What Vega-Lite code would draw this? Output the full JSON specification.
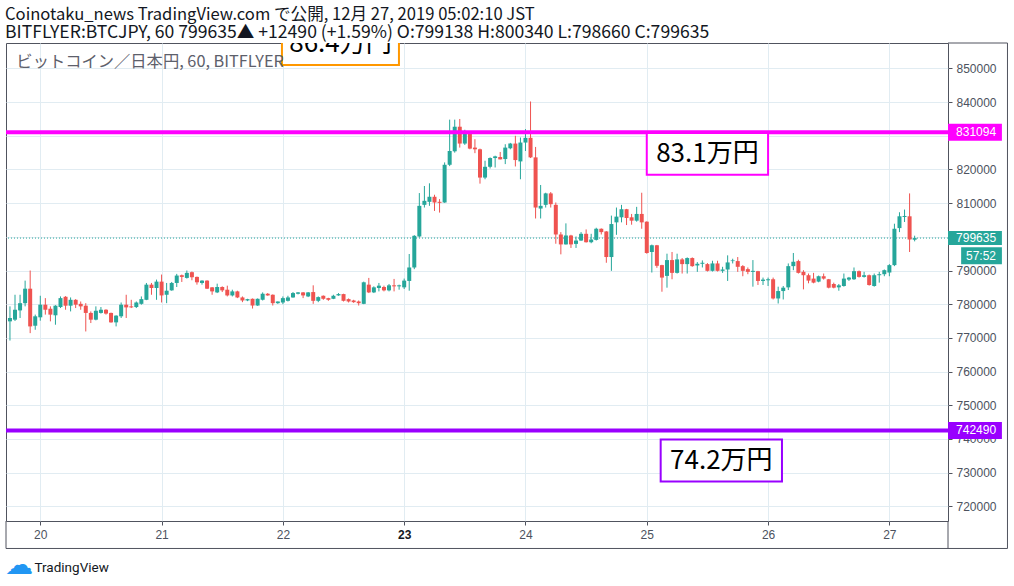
{
  "$schema": "https://vega.github.io/schema/vega-lite/v6.json",
  "description": "BITFLYER BTCJPY 60 min candles, Dec 19-27 2019, with support/resistance lines",
  "width": 942,
  "height": 478,
  "autosize": "none",
  "padding": {"left": 6, "top": 43, "right": 66, "bottom": 65},
  "background": "white",
  "title": {
    "text": "Coinotaku_news TradingView.com で公開, 12月 27, 2019 05:02:10 JST",
    "subtitle": "BITFLYER:BTCJPY, 60  799635▲ +12490 (+1.59%) O:799138 H:800340 L:798660 C:799635",
    "anchor": "start",
    "frame": "group",
    "offset": 1,
    "dx": -1,
    "font": "Noto Sans CJK JP",
    "fontSize": 16.6,
    "fontWeight": "normal",
    "color": "#131722",
    "subtitleFont": "Noto Sans CJK JP",
    "subtitleFontSize": 17.6,
    "subtitleColor": "#131722",
    "subtitlePadding": 0
  },
  "config": {
    "view": {"stroke": "#50535e", "strokeWidth": 1},
    "text": {"font": "Liberation Sans"},
    "axis": {"labelOverlap": false, "labelSeparation": 0}
  },
  "datasets": {
    "candles": [
      {"t": "2019-12-19T18:00:00Z", "o": 774900, "h": 779350, "l": 769200, "c": 775900},
      {"t": "2019-12-19T19:00:00Z", "o": 775400, "h": 782800, "l": 775000, "c": 778350},
      {"t": "2019-12-19T20:00:00Z", "o": 778150, "h": 782800, "l": 775900, "c": 780300},
      {"t": "2019-12-19T21:00:00Z", "o": 780300, "h": 787000, "l": 779350, "c": 784600},
      {"t": "2019-12-19T22:00:00Z", "o": 784600, "h": 790000, "l": 771400, "c": 773400},
      {"t": "2019-12-19T23:00:00Z", "o": 773600, "h": 776900, "l": 772400, "c": 776400},
      {"t": "2019-12-20T00:00:00Z", "o": 776100, "h": 782500, "l": 775100, "c": 779850},
      {"t": "2019-12-20T01:00:00Z", "o": 779850, "h": 781800, "l": 776900, "c": 778350},
      {"t": "2019-12-20T02:00:00Z", "o": 778650, "h": 779350, "l": 774900, "c": 776900},
      {"t": "2019-12-20T03:00:00Z", "o": 776700, "h": 779700, "l": 773900, "c": 779550},
      {"t": "2019-12-20T04:00:00Z", "o": 779150, "h": 782300, "l": 778850, "c": 781800},
      {"t": "2019-12-20T05:00:00Z", "o": 782200, "h": 782400, "l": 778350, "c": 779550},
      {"t": "2019-12-20T06:00:00Z", "o": 779550, "h": 782000, "l": 777850, "c": 781300},
      {"t": "2019-12-20T07:00:00Z", "o": 781300, "h": 781500, "l": 778850, "c": 779850},
      {"t": "2019-12-20T08:00:00Z", "o": 780100, "h": 780800, "l": 778350, "c": 779350},
      {"t": "2019-12-20T09:00:00Z", "o": 779550, "h": 780300, "l": 771900, "c": 777400},
      {"t": "2019-12-20T10:00:00Z", "o": 777400, "h": 777850, "l": 774400, "c": 775400},
      {"t": "2019-12-20T11:00:00Z", "o": 775400, "h": 779350, "l": 775200, "c": 778050},
      {"t": "2019-12-20T12:00:00Z", "o": 777400, "h": 779150, "l": 777200, "c": 778350},
      {"t": "2019-12-20T13:00:00Z", "o": 778350, "h": 778500, "l": 776900, "c": 777200},
      {"t": "2019-12-20T14:00:00Z", "o": 777400, "h": 777500, "l": 774500, "c": 774600},
      {"t": "2019-12-20T15:00:00Z", "o": 774600, "h": 776700, "l": 773400, "c": 776600},
      {"t": "2019-12-20T16:00:00Z", "o": 776400, "h": 780500, "l": 775900, "c": 779850},
      {"t": "2019-12-20T17:00:00Z", "o": 779850, "h": 782800, "l": 775900, "c": 779050},
      {"t": "2019-12-20T18:00:00Z", "o": 779350, "h": 781300, "l": 778850, "c": 779050},
      {"t": "2019-12-20T19:00:00Z", "o": 779150, "h": 780800, "l": 778850, "c": 780500},
      {"t": "2019-12-20T20:00:00Z", "o": 780100, "h": 782300, "l": 779850, "c": 781500},
      {"t": "2019-12-20T21:00:00Z", "o": 781300, "h": 786300, "l": 781200, "c": 785800},
      {"t": "2019-12-20T22:00:00Z", "o": 785800, "h": 786300, "l": 782800, "c": 784800},
      {"t": "2019-12-20T23:00:00Z", "o": 784800, "h": 787300, "l": 781300, "c": 786700},
      {"t": "2019-12-21T00:00:00Z", "o": 786700, "h": 788800, "l": 780500, "c": 782600},
      {"t": "2019-12-21T01:00:00Z", "o": 782800, "h": 786300, "l": 780300, "c": 784000},
      {"t": "2019-12-21T02:00:00Z", "o": 784100, "h": 786600, "l": 784000, "c": 786300},
      {"t": "2019-12-21T03:00:00Z", "o": 786300, "h": 789000, "l": 785100, "c": 788500},
      {"t": "2019-12-21T04:00:00Z", "o": 788600, "h": 788800, "l": 786600, "c": 788100},
      {"t": "2019-12-21T05:00:00Z", "o": 787800, "h": 790000, "l": 787600, "c": 789300},
      {"t": "2019-12-21T06:00:00Z", "o": 789500, "h": 789700, "l": 787100, "c": 788000},
      {"t": "2019-12-21T07:00:00Z", "o": 788100, "h": 788200, "l": 785800, "c": 786500},
      {"t": "2019-12-21T08:00:00Z", "o": 786300, "h": 787100, "l": 785800, "c": 787000},
      {"t": "2019-12-21T09:00:00Z", "o": 787000, "h": 787100, "l": 784500, "c": 784600},
      {"t": "2019-12-21T10:00:00Z", "o": 785000, "h": 785100, "l": 782800, "c": 783800},
      {"t": "2019-12-21T11:00:00Z", "o": 783500, "h": 786100, "l": 783300, "c": 785100},
      {"t": "2019-12-21T12:00:00Z", "o": 785100, "h": 785300, "l": 783600, "c": 784100},
      {"t": "2019-12-21T13:00:00Z", "o": 784300, "h": 785500, "l": 782300, "c": 782600},
      {"t": "2019-12-21T14:00:00Z", "o": 782600, "h": 784300, "l": 782300, "c": 783800},
      {"t": "2019-12-21T15:00:00Z", "o": 783800, "h": 784000, "l": 781800, "c": 782000},
      {"t": "2019-12-21T16:00:00Z", "o": 782000, "h": 782300, "l": 780600, "c": 781100},
      {"t": "2019-12-21T17:00:00Z", "o": 781100, "h": 781600, "l": 780900, "c": 781500},
      {"t": "2019-12-21T18:00:00Z", "o": 781600, "h": 781700, "l": 778700, "c": 779600},
      {"t": "2019-12-21T19:00:00Z", "o": 779600, "h": 781700, "l": 779500, "c": 781600},
      {"t": "2019-12-21T20:00:00Z", "o": 781300, "h": 783500, "l": 781100, "c": 783100},
      {"t": "2019-12-21T21:00:00Z", "o": 783100, "h": 783300, "l": 782500, "c": 782600},
      {"t": "2019-12-21T22:00:00Z", "o": 782800, "h": 782900, "l": 779600, "c": 780300},
      {"t": "2019-12-21T23:00:00Z", "o": 780300, "h": 780800, "l": 780100, "c": 780800},
      {"t": "2019-12-22T00:00:00Z", "o": 780500, "h": 782300, "l": 780000, "c": 781800},
      {"t": "2019-12-22T01:00:00Z", "o": 781000, "h": 782500, "l": 780800, "c": 782000},
      {"t": "2019-12-22T02:00:00Z", "o": 782000, "h": 783600, "l": 781900, "c": 783300},
      {"t": "2019-12-22T03:00:00Z", "o": 783100, "h": 783600, "l": 782900, "c": 783500},
      {"t": "2019-12-22T04:00:00Z", "o": 783500, "h": 783600, "l": 781800, "c": 782600},
      {"t": "2019-12-22T05:00:00Z", "o": 782300, "h": 783600, "l": 782100, "c": 783500},
      {"t": "2019-12-22T06:00:00Z", "o": 783600, "h": 785600, "l": 780100, "c": 781000},
      {"t": "2019-12-22T07:00:00Z", "o": 781000, "h": 782300, "l": 780600, "c": 782100},
      {"t": "2019-12-22T08:00:00Z", "o": 782500, "h": 782600, "l": 781300, "c": 781600},
      {"t": "2019-12-22T09:00:00Z", "o": 781800, "h": 781900, "l": 781000, "c": 781300},
      {"t": "2019-12-22T10:00:00Z", "o": 781600, "h": 782800, "l": 781500, "c": 782500},
      {"t": "2019-12-22T11:00:00Z", "o": 782600, "h": 783300, "l": 782500, "c": 783000},
      {"t": "2019-12-22T12:00:00Z", "o": 783000, "h": 783100, "l": 780800, "c": 781000},
      {"t": "2019-12-22T13:00:00Z", "o": 781500, "h": 781700, "l": 780500, "c": 780800},
      {"t": "2019-12-22T14:00:00Z", "o": 781100, "h": 781300, "l": 780400, "c": 780600},
      {"t": "2019-12-22T15:00:00Z", "o": 780800, "h": 781100, "l": 779600, "c": 780300},
      {"t": "2019-12-22T16:00:00Z", "o": 780100, "h": 786700, "l": 780000, "c": 786500},
      {"t": "2019-12-22T17:00:00Z", "o": 785800, "h": 787800, "l": 783300, "c": 783500},
      {"t": "2019-12-22T18:00:00Z", "o": 783500, "h": 785300, "l": 783300, "c": 785000},
      {"t": "2019-12-22T19:00:00Z", "o": 784800, "h": 786300, "l": 783800, "c": 785500},
      {"t": "2019-12-22T20:00:00Z", "o": 785100, "h": 785500, "l": 783800, "c": 784100},
      {"t": "2019-12-22T21:00:00Z", "o": 784100, "h": 786000, "l": 783800, "c": 785600},
      {"t": "2019-12-22T22:00:00Z", "o": 785600, "h": 787500, "l": 783800, "c": 785300},
      {"t": "2019-12-22T23:00:00Z", "o": 785300, "h": 785800, "l": 784300, "c": 785600},
      {"t": "2019-12-23T00:00:00Z", "o": 785000, "h": 787600, "l": 784500, "c": 787000},
      {"t": "2019-12-23T01:00:00Z", "o": 786900, "h": 794900, "l": 784000, "c": 790900},
      {"t": "2019-12-23T02:00:00Z", "o": 790900, "h": 800500, "l": 790400, "c": 800300},
      {"t": "2019-12-23T03:00:00Z", "o": 800100, "h": 813000, "l": 799800, "c": 809200},
      {"t": "2019-12-23T04:00:00Z", "o": 809500, "h": 815100, "l": 808700, "c": 810700},
      {"t": "2019-12-23T05:00:00Z", "o": 810400, "h": 815900, "l": 809200, "c": 811900},
      {"t": "2019-12-23T06:00:00Z", "o": 811900, "h": 812500, "l": 807700, "c": 810200},
      {"t": "2019-12-23T07:00:00Z", "o": 810400, "h": 811200, "l": 807200, "c": 810100},
      {"t": "2019-12-23T08:00:00Z", "o": 810200, "h": 822100, "l": 810100, "c": 821400},
      {"t": "2019-12-23T09:00:00Z", "o": 821400, "h": 834800, "l": 821000, "c": 825500},
      {"t": "2019-12-23T10:00:00Z", "o": 825400, "h": 834800, "l": 825000, "c": 832700},
      {"t": "2019-12-23T11:00:00Z", "o": 832700, "h": 835000, "l": 826500, "c": 827700},
      {"t": "2019-12-23T12:00:00Z", "o": 827700, "h": 831800, "l": 827300, "c": 830700},
      {"t": "2019-12-23T13:00:00Z", "o": 830700, "h": 830900, "l": 826000, "c": 826200},
      {"t": "2019-12-23T14:00:00Z", "o": 826500, "h": 829000, "l": 824850, "c": 826000},
      {"t": "2019-12-23T15:00:00Z", "o": 826000, "h": 826200, "l": 815800, "c": 817600},
      {"t": "2019-12-23T16:00:00Z", "o": 817600, "h": 822600, "l": 817100, "c": 820800},
      {"t": "2019-12-23T17:00:00Z", "o": 820800, "h": 823600, "l": 820300, "c": 823400},
      {"t": "2019-12-23T18:00:00Z", "o": 823400, "h": 824100, "l": 820600, "c": 823900},
      {"t": "2019-12-23T19:00:00Z", "o": 823700, "h": 825200, "l": 823000, "c": 823000},
      {"t": "2019-12-23T20:00:00Z", "o": 823100, "h": 827500, "l": 821600, "c": 826500},
      {"t": "2019-12-23T21:00:00Z", "o": 826300, "h": 827900, "l": 826000, "c": 827700},
      {"t": "2019-12-23T22:00:00Z", "o": 827700, "h": 830000, "l": 820900, "c": 822800},
      {"t": "2019-12-23T23:00:00Z", "o": 822400, "h": 829500, "l": 817100, "c": 828000},
      {"t": "2019-12-24T00:00:00Z", "o": 828000, "h": 832000, "l": 825500, "c": 829400},
      {"t": "2019-12-24T01:00:00Z", "o": 829400, "h": 840200, "l": 823400, "c": 823600},
      {"t": "2019-12-24T02:00:00Z", "o": 823600, "h": 826700, "l": 805450, "c": 808700},
      {"t": "2019-12-24T03:00:00Z", "o": 808400, "h": 815400, "l": 805450, "c": 809200},
      {"t": "2019-12-24T04:00:00Z", "o": 809500, "h": 813100, "l": 808700, "c": 812900},
      {"t": "2019-12-24T05:00:00Z", "o": 812900, "h": 813300, "l": 808700, "c": 809700},
      {"t": "2019-12-24T06:00:00Z", "o": 809500, "h": 810200, "l": 797950, "c": 800700},
      {"t": "2019-12-24T07:00:00Z", "o": 800700, "h": 801400, "l": 794800, "c": 797750},
      {"t": "2019-12-24T08:00:00Z", "o": 797750, "h": 804000, "l": 797700, "c": 800400},
      {"t": "2019-12-24T09:00:00Z", "o": 800400, "h": 800600, "l": 796700, "c": 797750},
      {"t": "2019-12-24T10:00:00Z", "o": 797900, "h": 800100, "l": 796700, "c": 798900},
      {"t": "2019-12-24T11:00:00Z", "o": 798900, "h": 801400, "l": 798800, "c": 800900},
      {"t": "2019-12-24T12:00:00Z", "o": 800900, "h": 802200, "l": 798300, "c": 798400},
      {"t": "2019-12-24T13:00:00Z", "o": 798400, "h": 800900, "l": 798100, "c": 799200},
      {"t": "2019-12-24T14:00:00Z", "o": 799100, "h": 802700, "l": 798900, "c": 802400},
      {"t": "2019-12-24T15:00:00Z", "o": 802400, "h": 802500, "l": 800700, "c": 801400},
      {"t": "2019-12-24T16:00:00Z", "o": 801600, "h": 801700, "l": 792300, "c": 794000},
      {"t": "2019-12-24T17:00:00Z", "o": 794000, "h": 806300, "l": 789900, "c": 803800},
      {"t": "2019-12-24T18:00:00Z", "o": 804300, "h": 808700, "l": 800600, "c": 806000},
      {"t": "2019-12-24T19:00:00Z", "o": 805800, "h": 809500, "l": 804300, "c": 808200},
      {"t": "2019-12-24T20:00:00Z", "o": 808200, "h": 808300, "l": 803500, "c": 805600},
      {"t": "2019-12-24T21:00:00Z", "o": 805800, "h": 806800, "l": 803600, "c": 804800},
      {"t": "2019-12-24T22:00:00Z", "o": 804800, "h": 808900, "l": 804500, "c": 806800},
      {"t": "2019-12-24T23:00:00Z", "o": 806800, "h": 813100, "l": 802400, "c": 804300},
      {"t": "2019-12-25T00:00:00Z", "o": 804500, "h": 804600, "l": 795000, "c": 795200},
      {"t": "2019-12-25T01:00:00Z", "o": 795500, "h": 797700, "l": 789400, "c": 797500},
      {"t": "2019-12-25T02:00:00Z", "o": 797500, "h": 797600, "l": 790800, "c": 791400},
      {"t": "2019-12-25T03:00:00Z", "o": 791600, "h": 791700, "l": 783700, "c": 787900},
      {"t": "2019-12-25T04:00:00Z", "o": 788400, "h": 795000, "l": 784900, "c": 793100},
      {"t": "2019-12-25T05:00:00Z", "o": 793100, "h": 795500, "l": 787400, "c": 789300},
      {"t": "2019-12-25T06:00:00Z", "o": 789300, "h": 795000, "l": 789100, "c": 793300},
      {"t": "2019-12-25T07:00:00Z", "o": 793300, "h": 793700, "l": 789100, "c": 791900},
      {"t": "2019-12-25T08:00:00Z", "o": 791900, "h": 793900, "l": 789100, "c": 793700},
      {"t": "2019-12-25T09:00:00Z", "o": 793700, "h": 793900, "l": 791100, "c": 791300},
      {"t": "2019-12-25T10:00:00Z", "o": 791500, "h": 792500, "l": 789600, "c": 792000},
      {"t": "2019-12-25T11:00:00Z", "o": 792000, "h": 793000, "l": 790900, "c": 792300},
      {"t": "2019-12-25T12:00:00Z", "o": 791900, "h": 792200, "l": 789700, "c": 789900},
      {"t": "2019-12-25T13:00:00Z", "o": 789900, "h": 792900, "l": 789700, "c": 792100},
      {"t": "2019-12-25T14:00:00Z", "o": 792100, "h": 792900, "l": 789700, "c": 789900},
      {"t": "2019-12-25T15:00:00Z", "o": 789900, "h": 791100, "l": 789300, "c": 790300},
      {"t": "2019-12-25T16:00:00Z", "o": 790300, "h": 794500, "l": 786900, "c": 792400},
      {"t": "2019-12-25T17:00:00Z", "o": 792800, "h": 793500, "l": 792100, "c": 793000},
      {"t": "2019-12-25T18:00:00Z", "o": 792800, "h": 794000, "l": 789600, "c": 791100},
      {"t": "2019-12-25T19:00:00Z", "o": 791300, "h": 791600, "l": 788300, "c": 789900},
      {"t": "2019-12-25T20:00:00Z", "o": 790400, "h": 790900, "l": 788900, "c": 789600},
      {"t": "2019-12-25T21:00:00Z", "o": 789600, "h": 793100, "l": 785200, "c": 789900},
      {"t": "2019-12-25T22:00:00Z", "o": 789800, "h": 789900, "l": 785700, "c": 786900},
      {"t": "2019-12-25T23:00:00Z", "o": 786900, "h": 787900, "l": 785700, "c": 787300},
      {"t": "2019-12-26T00:00:00Z", "o": 787100, "h": 787900, "l": 785400, "c": 787400},
      {"t": "2019-12-26T01:00:00Z", "o": 787400, "h": 787900, "l": 781400, "c": 781700},
      {"t": "2019-12-26T02:00:00Z", "o": 781700, "h": 785200, "l": 780200, "c": 783900},
      {"t": "2019-12-26T03:00:00Z", "o": 783900, "h": 785400, "l": 781400, "c": 784900},
      {"t": "2019-12-26T04:00:00Z", "o": 785000, "h": 792100, "l": 784200, "c": 791300},
      {"t": "2019-12-26T05:00:00Z", "o": 791300, "h": 795200, "l": 790100, "c": 792600},
      {"t": "2019-12-26T06:00:00Z", "o": 792800, "h": 793200, "l": 789100, "c": 789300},
      {"t": "2019-12-26T07:00:00Z", "o": 789600, "h": 790100, "l": 784400, "c": 788600},
      {"t": "2019-12-26T08:00:00Z", "o": 788600, "h": 789100, "l": 786200, "c": 787000},
      {"t": "2019-12-26T09:00:00Z", "o": 787600, "h": 789300, "l": 786200, "c": 786400},
      {"t": "2019-12-26T10:00:00Z", "o": 786700, "h": 788500, "l": 786500, "c": 788300},
      {"t": "2019-12-26T11:00:00Z", "o": 788300, "h": 789100, "l": 787300, "c": 787600},
      {"t": "2019-12-26T12:00:00Z", "o": 787400, "h": 787500, "l": 784700, "c": 784900},
      {"t": "2019-12-26T13:00:00Z", "o": 786000, "h": 786400, "l": 784700, "c": 784900},
      {"t": "2019-12-26T14:00:00Z", "o": 785000, "h": 786000, "l": 784000, "c": 785600},
      {"t": "2019-12-26T15:00:00Z", "o": 785400, "h": 789100, "l": 785200, "c": 787600},
      {"t": "2019-12-26T16:00:00Z", "o": 787300, "h": 788100, "l": 786900, "c": 787900},
      {"t": "2019-12-26T17:00:00Z", "o": 787400, "h": 790900, "l": 787200, "c": 789800},
      {"t": "2019-12-26T18:00:00Z", "o": 789800, "h": 790000, "l": 787900, "c": 788100},
      {"t": "2019-12-26T19:00:00Z", "o": 788100, "h": 789600, "l": 787900, "c": 788600},
      {"t": "2019-12-26T20:00:00Z", "o": 788600, "h": 788800, "l": 785500, "c": 785700},
      {"t": "2019-12-26T21:00:00Z", "o": 785400, "h": 789100, "l": 785200, "c": 788600},
      {"t": "2019-12-26T22:00:00Z", "o": 788600, "h": 789600, "l": 786400, "c": 788900},
      {"t": "2019-12-26T23:00:00Z", "o": 788900, "h": 790300, "l": 788300, "c": 790100},
      {"t": "2019-12-27T00:00:00Z", "o": 789400, "h": 791900, "l": 788300, "c": 791600},
      {"t": "2019-12-27T01:00:00Z", "o": 791600, "h": 803900, "l": 791300, "c": 802400},
      {"t": "2019-12-27T02:00:00Z", "o": 802600, "h": 807300, "l": 801400, "c": 806100},
      {"t": "2019-12-27T03:00:00Z", "o": 805900, "h": 808100, "l": 804400, "c": 806200},
      {"t": "2019-12-27T04:00:00Z", "o": 806100, "h": 812900, "l": 795500, "c": 799200},
      {"t": "2019-12-27T05:00:00Z", "o": 799138, "h": 800340, "l": 798660, "c": 799635}
    ],
    "levels": [
      {"level": "resistance", "price": 831094},
      {"level": "support", "price": 742490}
    ],
    "last": [
      {"price": 799635, "countdown": "57:52"}
    ]
  },
  "layer": [
    {
      "data": {"name": "candles"},
      "mark": {"type": "rule", "strokeWidth": 1},
      "encoding": {
        "x": {
          "field": "t",
          "type": "temporal",
          "scale": {
            "type": "utc",
            "padding": 0,
            "domain": [
              {"year": 2019, "month": 12, "date": 19, "hours": 17, "minutes": 13, "utc": true},
              {"year": 2019, "month": 12, "date": 27, "hours": 11, "minutes": 36, "utc": true}
            ]
          },
          "axis": {
            "values": [
              {"year": 2019, "month": 12, "date": 20, "utc": true},
              {"year": 2019, "month": 12, "date": 21, "utc": true},
              {"year": 2019, "month": 12, "date": 22, "utc": true},
              {"year": 2019, "month": 12, "date": 23, "utc": true},
              {"year": 2019, "month": 12, "date": 24, "utc": true},
              {"year": 2019, "month": 12, "date": 25, "utc": true},
              {"year": 2019, "month": 12, "date": 26, "utc": true},
              {"year": 2019, "month": 12, "date": 27, "utc": true}
            ],
            "format": "%-d",
            "grid": true,
            "gridColor": "#e1ecf2",
            "domain": false,
            "tickColor": "#50535e",
            "tickSize": 4,
            "labelPadding": 4,
            "labelOverlap": false,
            "labelFont": "Liberation Sans",
            "labelFontSize": 12,
            "labelColor": {"condition": {"test": "utcdate(datum.value) == 23", "value": "#131722"}, "value": "#4c525e"},
            "labelFontWeight": {"condition": {"test": "utcdate(datum.value) == 23", "value": "bold"}, "value": "normal"},
            "title": "TradingView",
            "titleFont": "Roboto",
            "titleFontSize": 13.5,
            "titleFontWeight": "normal",
            "titleColor": "#131722",
            "titleAlign": "left",
            "titleBaseline": "middle",
            "titleX": 28,
            "titleY": 46
          }
        },
        "y": {
          "field": "l",
          "type": "quantitative",
          "scale": {"domain": [715610, 857565], "zero": false, "nice": false},
          "axis": {
            "orient": "right",
            "values": [720000, 730000, 740000, 750000, 760000, 770000, 780000, 790000, 800000, 810000, 820000, 830000, 840000, 850000],
            "tickCount": 14,
            "format": "d",
            "grid": true,
            "gridColor": "#e1ecf2",
            "domain": false,
            "tickColor": "#50535e",
            "tickSize": 4,
            "labelPadding": 4,
            "labelOverlap": false,
            "labelFont": "Liberation Sans",
            "labelFontSize": 12,
            "labelColor": "#4c525e",
            "title": null
          }
        },
        "y2": {"field": "h"},
        "color": {"condition": {"test": "datum.c >= datum.o", "value": "#26a69a"}, "value": "#ef5350"}
      }
    },
    {
      "data": {"name": "last"},
      "mark": {"type": "rule", "color": "#26a69a", "strokeWidth": 1, "strokeDash": [1, 2]},
      "encoding": {
        "y": {"field": "price", "type": "quantitative"}
      }
    },
    {
      "data": {"name": "candles"},
      "mark": {"type": "bar", "size": 4},
      "encoding": {
        "x": {"field": "t", "type": "temporal"},
        "y": {"field": "o", "type": "quantitative"},
        "y2": {"field": "c"},
        "color": {"condition": {"test": "datum.c >= datum.o", "value": "#26a69a"}, "value": "#ef5350"}
      }
    },
    {
      "data": {"name": "levels"},
      "mark": {"type": "rule", "strokeWidth": 4},
      "encoding": {
        "y": {"field": "price", "type": "quantitative"},
        "color": {"field": "level", "type": "nominal", "scale": {"domain": ["resistance", "support"], "range": ["#ff00ff", "#9900ff"]}, "legend": null}
      }
    },
    {
      "data": {"values": [{}]},
      "mark": {"type": "rect", "fill": "white", "stroke": "#ff00ff", "strokeWidth": 2},
      "encoding": {
        "x": {"datum": {"year": 2019, "month": 12, "date": 25, "hours": 0, "utc": true}, "type": "temporal"},
        "x2": {"datum": {"year": 2019, "month": 12, "date": 26, "hours": 0, "utc": true}},
        "y": {"datum": 830870, "type": "quantitative"},
        "y2": {"datum": 818410}
      }
    },
    {
      "data": {"values": [{}]},
      "mark": {"type": "text", "font": "Noto Sans CJK JP", "fontSize": 26, "color": "#000000", "align": "center", "baseline": "middle"},
      "encoding": {
        "x": {"datum": {"year": 2019, "month": 12, "date": 25, "hours": 12, "utc": true}, "type": "temporal"},
        "y": {"datum": 824640, "type": "quantitative"},
        "text": {"value": "83.1万円"}
      }
    },
    {
      "data": {"values": [{}]},
      "mark": {"type": "rect", "fill": "white", "stroke": "#9900ff", "strokeWidth": 2},
      "encoding": {
        "x": {"datum": {"year": 2019, "month": 12, "date": 25, "hours": 2, "minutes": 45, "utc": true}, "type": "temporal"},
        "x2": {"datum": {"year": 2019, "month": 12, "date": 26, "hours": 2, "minutes": 45, "utc": true}},
        "y": {"datum": 739790, "type": "quantitative"},
        "y2": {"datum": 727330}
      }
    },
    {
      "data": {"values": [{}]},
      "mark": {"type": "text", "font": "Noto Sans CJK JP", "fontSize": 26, "color": "#000000", "align": "center", "baseline": "middle"},
      "encoding": {
        "x": {"datum": {"year": 2019, "month": 12, "date": 25, "hours": 14, "minutes": 45, "utc": true}, "type": "temporal"},
        "y": {"datum": 733560, "type": "quantitative"},
        "text": {"value": "74.2万円"}
      }
    },
    {
      "data": {"values": [{}]},
      "mark": {"type": "rect", "fill": "white", "stroke": "#ff9800", "strokeWidth": 2, "clip": true},
      "encoding": {
        "x": {"datum": {"year": 2019, "month": 12, "date": 21, "hours": 23, "minutes": 49, "utc": true}, "type": "temporal"},
        "x2": {"datum": {"year": 2019, "month": 12, "date": 22, "hours": 22, "minutes": 58, "utc": true}},
        "y": {"datum": 863500, "type": "quantitative"},
        "y2": {"datum": 851040}
      }
    },
    {
      "data": {"values": [{}]},
      "mark": {"type": "text", "font": "Noto Sans CJK JP", "fontSize": 26, "color": "#000000", "align": "center", "baseline": "middle", "clip": true},
      "encoding": {
        "x": {"datum": {"year": 2019, "month": 12, "date": 22, "hours": 11, "minutes": 24, "utc": true}, "type": "temporal"},
        "y": {"datum": 857270, "type": "quantitative"},
        "text": {"value": "86.4万円"}
      }
    },
    {
      "data": {"values": [{}]},
      "mark": {"type": "text", "font": "Noto Sans CJK JP", "fontSize": 16.3, "color": "#5d606b", "align": "left", "baseline": "middle"},
      "encoding": {
        "x": {"datum": {"year": 2019, "month": 12, "date": 19, "hours": 19, "minutes": 16, "utc": true}, "type": "temporal"},
        "y": {"datum": 851930, "type": "quantitative"},
        "text": {"value": "ビットコイン／日本円, 60, BITFLYER"}
      }
    },
    {
      "data": {"name": "levels"},
      "mark": {"type": "rule", "strokeWidth": 17, "strokeCap": "butt", "clip": false},
      "encoding": {
        "x": {"datum": {"year": 2019, "month": 12, "date": 27, "hours": 11, "minutes": 36, "utc": true}, "type": "temporal"},
        "x2": {"datum": {"year": 2019, "month": 12, "date": 27, "hours": 22, "minutes": 16, "utc": true}},
        "y": {"field": "price", "type": "quantitative"},
        "color": {"field": "level", "type": "nominal", "legend": null}
      }
    },
    {
      "data": {"name": "levels"},
      "mark": {"type": "text", "font": "Liberation Sans", "fontSize": 12, "color": "white", "align": "left", "baseline": "middle", "clip": false},
      "encoding": {
        "x": {"datum": {"year": 2019, "month": 12, "date": 27, "hours": 13, "minutes": 12, "utc": true}, "type": "temporal"},
        "y": {"field": "price", "type": "quantitative"},
        "text": {"field": "price", "type": "quantitative", "format": "d"}
      }
    },
    {
      "data": {"name": "last"},
      "mark": {"type": "rule", "strokeWidth": 14, "strokeCap": "butt", "color": "#26a69a", "clip": false},
      "encoding": {
        "x": {"datum": {"year": 2019, "month": 12, "date": 27, "hours": 11, "minutes": 36, "utc": true}, "type": "temporal"},
        "x2": {"datum": {"year": 2019, "month": 12, "date": 27, "hours": 22, "minutes": 16, "utc": true}},
        "y": {"field": "price", "type": "quantitative"}
      }
    },
    {
      "data": {"name": "last"},
      "mark": {"type": "text", "font": "Liberation Sans", "fontSize": 12, "color": "white", "align": "left", "baseline": "middle", "clip": false},
      "encoding": {
        "x": {"datum": {"year": 2019, "month": 12, "date": 27, "hours": 13, "minutes": 12, "utc": true}, "type": "temporal"},
        "y": {"field": "price", "type": "quantitative"},
        "text": {"field": "price", "type": "quantitative", "format": "d"}
      }
    },
    {
      "data": {"name": "last"},
      "mark": {"type": "rule", "strokeWidth": 17, "strokeCap": "butt", "color": "#26a69a", "clip": false},
      "encoding": {
        "x": {"datum": {"year": 2019, "month": 12, "date": 27, "hours": 14, "minutes": 12, "utc": true}, "type": "temporal"},
        "x2": {"datum": {"year": 2019, "month": 12, "date": 27, "hours": 22, "minutes": 16, "utc": true}},
        "y": {"datum": 794380, "type": "quantitative"}
      }
    },
    {
      "data": {"name": "last"},
      "mark": {"type": "text", "font": "Liberation Sans", "fontSize": 12, "color": "white", "align": "center", "baseline": "middle", "clip": false},
      "encoding": {
        "x": {"datum": {"year": 2019, "month": 12, "date": 27, "hours": 18, "minutes": 8, "utc": true}, "type": "temporal"},
        "y": {"datum": 794380, "type": "quantitative"},
        "text": {"field": "countdown"}
      }
    },
    {
      "data": {"values": [{}]},
      "mark": {"type": "rule", "color": "#50535e", "strokeWidth": 1, "clip": false},
      "encoding": {
        "x": {"datum": {"year": 2019, "month": 12, "date": 19, "hours": 17, "minutes": 13, "utc": true}, "type": "temporal"},
        "x2": {"datum": {"year": 2019, "month": 12, "date": 27, "hours": 23, "minutes": 22, "utc": true}},
        "y": {"datum": 707450, "type": "quantitative"}
      }
    },
    {
      "data": {"values": [{}]},
      "mark": {"type": "rule", "color": "#50535e", "strokeWidth": 1, "clip": false},
      "encoding": {
        "x": {"datum": {"year": 2019, "month": 12, "date": 27, "hours": 11, "minutes": 36, "utc": true}, "type": "temporal"},
        "x2": {"datum": {"year": 2019, "month": 12, "date": 27, "hours": 23, "minutes": 22, "utc": true}},
        "y": {"datum": 857565, "type": "quantitative"}
      }
    },
    {
      "data": {"values": [{}]},
      "mark": {"type": "rule", "color": "#50535e", "strokeWidth": 1, "clip": false},
      "encoding": {
        "x": {"datum": {"year": 2019, "month": 12, "date": 19, "hours": 17, "minutes": 13, "utc": true}, "type": "temporal"},
        "y": {"datum": 715610, "type": "quantitative"},
        "y2": {"datum": 707450}
      }
    },
    {
      "data": {"values": [{}]},
      "mark": {"type": "rule", "color": "#50535e", "strokeWidth": 1, "clip": false},
      "encoding": {
        "x": {"datum": {"year": 2019, "month": 12, "date": 27, "hours": 11, "minutes": 36, "utc": true}, "type": "temporal"},
        "y": {"datum": 715610, "type": "quantitative"},
        "y2": {"datum": 707450}
      }
    },
    {
      "data": {"values": [{}]},
      "mark": {"type": "rule", "color": "#50535e", "strokeWidth": 1, "clip": false},
      "encoding": {
        "x": {"datum": {"year": 2019, "month": 12, "date": 27, "hours": 23, "minutes": 22, "utc": true}, "type": "temporal"},
        "y": {"datum": 857565, "type": "quantitative"},
        "y2": {"datum": 707450}
      }
    },
    {
      "data": {"values": [{}]},
      "mark": {"type": "text", "font": "DejaVu Sans", "fontSize": 28, "color": "#2196f3", "align": "center", "baseline": "middle", "clip": false},
      "encoding": {
        "x": {"datum": {"year": 2019, "month": 12, "date": 19, "hours": 19, "minutes": 47, "utc": true}, "type": "temporal"},
        "y": {"datum": 702100, "type": "quantitative"},
        "text": {"value": "☁"}
      }
    }
  ]
}
